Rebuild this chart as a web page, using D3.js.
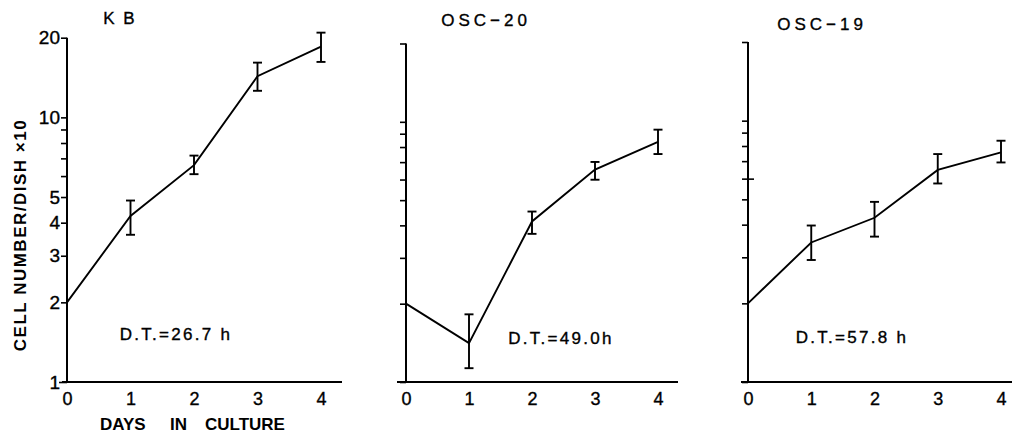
<!DOCTYPE html>
<html><head><meta charset="utf-8">
<script src="https://cdn.jsdelivr.net/npm/d3@7"></script>
<style>
html,body{margin:0;padding:0;background:#fff;}
svg{display:block;font-family:"Liberation Sans",Arial,sans-serif;}
</style></head>
<body>
<svg id="c" width="1012" height="441"></svg>
<script>
const days = [0, 1, 2, 3, 4];
const panelTitles = ["K B", "OSC\u221220", "OSC\u221219"];
const doublingTimes = ["D.T.=26.7 h", "D.T.=49.0h", "D.T.=57.8 h"];
const kbMean = [2.0, 4.24, 6.6, 14.3, 18.5];
const kbLow = [2.0, 3.6, 6.1, 12.6, 16.2];
const kbHigh = [2.0, 4.85, 7.17, 16.1, 20.9];
const osc20Mean = [2.0, 1.41, 4.14, 6.55, 8.37];
const osc20Low = [2.0, 1.13, 3.71, 5.99, 7.52];
const osc20High = [2.0, 1.82, 4.52, 7.01, 9.33];
const osc19Mean = [2.0, 3.42, 4.25, 6.48, 7.56];
const osc19Low = [2.0, 2.93, 3.6, 5.75, 6.92];
const osc19High = [2.0, 3.97, 4.89, 7.45, 8.38];
const yTickValues = [1, 2, 3, 4, 5, 6, 7, 8, 9, 10, 20];
const yTickLabels = {1: "1", 2: "2", 3: "3", 4: "4", 5: "5", 10: "10", 20: "20"};
const xTickLabels = ["0", "1", "2", "3", "4"];
const yAxisTitle = "CELL NUMBER/DISH \u00d710";
const xAxisWords = ["DAYS", "IN", "CULTURE"];

const series = [
  {mean: kbMean, low: kbLow, high: kbHigh},
  {mean: osc20Mean, low: osc20Low, high: osc20High},
  {mean: osc19Mean, low: osc19Low, high: osc19High}
];
const layout = [
  {x0: 67, x4: 321, top: 37.7, bottom: 382, axL: 62, axR: 342, title: [120, 18], titleLs: 2, dt: [176, 334], labels: true},
  {x0: 406, x4: 658, top: 43.5, bottom: 382, axL: 397, axR: 678, title: [486, 20], titleLs: 4, dt: [561, 338], labels: false},
  {x0: 748, x4: 1001, top: 42, bottom: 382, axL: 741, axR: 1012, title: [822, 24], titleLs: 4, dt: [852, 337], labels: false}
];

const svg = d3.select("#c");
const heavy = sel => sel.attr("stroke", "#000").attr("stroke-width", 0.35);

layout.forEach((L, i) => {
  const s = series[i];
  const x = d3.scaleLinear().domain([0, 4]).range([L.x0, L.x4]);
  const y = d3.scaleLog().domain([1, 20]).range([L.bottom, L.top]);
  const g = svg.append("g");

  // y axis
  const ya = g.append("g").attr("transform", `translate(${L.x0},0)`)
    .call(d3.axisLeft(y).tickValues(yTickValues).tickSizeOuter(0).tickSize(6)
      .tickFormat(d => L.labels ? (yTickLabels[d] || "") : ""));
  ya.select(".domain").attr("stroke", "#000").attr("stroke-width", 2)
    .attr("d", `M0,${L.bottom}V${L.top}`);
  ya.selectAll(".tick line").attr("stroke", "#000").attr("stroke-width", 1.6);
  ya.selectAll(".tick text").attr("font-size", 19).attr("fill", "#000")
    .attr("font-family", "Liberation Sans, Arial, sans-serif").attr("x", -7).call(heavy);
  if (i === 2) {
    ya.selectAll(".tick").filter(d => d === 6).select("line").attr("x2", 6).attr("x1", -6);
  }
  if (i === 0) {
    ya.selectAll(".tick").filter(d => d === 1).select("line").attr("x2", -8);
  }

  // x axis
  const xa = g.append("g").attr("transform", `translate(0,${L.bottom})`)
    .call(d3.axisBottom(x).tickValues(days).tickSize(0).tickFormat((d, k) => xTickLabels[k]));
  xa.select(".domain").attr("stroke", "#000").attr("stroke-width", 2)
    .attr("d", `M${L.axL},0H${L.axR}`);
  xa.selectAll(".tick text").attr("font-size", 18).attr("fill", "#000")
    .attr("font-family", "Liberation Sans, Arial, sans-serif")
    .attr("y", 17).attr("dy", "0.35em").call(heavy);

  // line
  const line = d3.line().x((d, k) => x(days[k])).y(d => y(d));
  g.append("path").datum(s.mean).attr("d", line)
    .attr("fill", "none").attr("stroke", "#000").attr("stroke-width", 1.9);

  // error bars
  const eb = g.append("g");
  days.forEach((d, k) => {
    if (s.low[k] === s.high[k]) return;
    const cx = x(d);
    eb.append("line").attr("x1", cx).attr("x2", cx).attr("y1", y(s.low[k])).attr("y2", y(s.high[k]))
      .attr("stroke", "#000").attr("stroke-width", 1.9);
    [s.low[k], s.high[k]].forEach(v => {
      eb.append("line").attr("x1", cx - 4.5).attr("x2", cx + 4.5).attr("y1", y(v)).attr("y2", y(v))
        .attr("stroke", "#000").attr("stroke-width", 1.9);
    });
  });

  // titles
  g.append("text").attr("x", L.title[0]).attr("y", L.title[1]).attr("dy", "0.35em")
    .attr("text-anchor", "middle").attr("font-size", i === 0 ? 17 : 17).attr("letter-spacing", L.titleLs + "px")
    .call(heavy).text(panelTitles[i]);
  g.append("text").attr("x", L.dt[0]).attr("y", L.dt[1]).attr("dy", "0.35em")
    .attr("text-anchor", "middle").attr("font-size", 17).attr("letter-spacing", "2.3px")
    .call(heavy).text(doublingTimes[i]);
});

svg.append("text").attr("transform", "translate(20,235) rotate(-90)")
  .attr("text-anchor", "middle").attr("dy", "0.35em").attr("font-size", 17)
  .attr("font-weight", "bold").attr("letter-spacing", "1.5px").text(yAxisTitle);

const xt = svg.append("text").attr("y", 424).attr("dy", "0.35em")
  .attr("font-size", 17).attr("font-weight", "bold");
const wordX = [100, 170, 205];
xAxisWords.forEach((w, k) => xt.append("tspan").attr("x", wordX[k]).text(w));
</script>
</body></html>
